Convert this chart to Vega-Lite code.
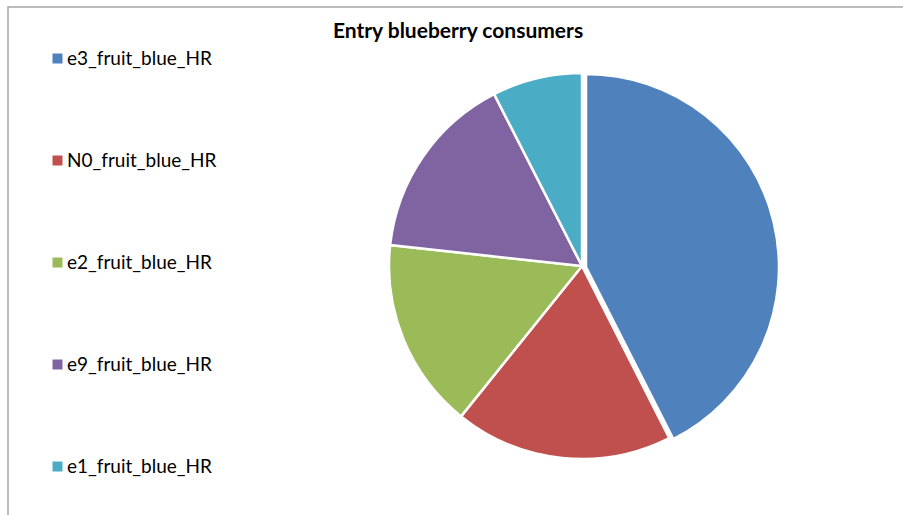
{
  "$schema": "https://vega.github.io/schema/vega-lite/v6.json",
  "width": 896,
  "height": 509,
  "padding": {"left": 7, "top": 6, "right": 0, "bottom": 0},
  "background": "white",
  "config": {
    "view": {"stroke": null},
    "font": "Lato"
  },
  "title": {
    "text": "Entry blueberry consumers",
    "anchor": "middle",
    "frame": "group",
    "offset": -36,
    "fontSize": 21,
    "fontWeight": "bold",
    "font": "Lato",
    "color": "#000000",
    "dx": 2
  },
  "data": {
    "values": [
      {"series": "e3_fruit_blue_HR", "value": 42.4, "rank": 1},
      {"series": "N0_fruit_blue_HR", "value": 18.2, "rank": 2},
      {"series": "e2_fruit_blue_HR", "value": 15.9, "rank": 3},
      {"series": "e9_fruit_blue_HR", "value": 15.7, "rank": 4},
      {"series": "e1_fruit_blue_HR", "value": 7.5, "rank": 5}
    ]
  },
  "layer": [
    {
      "data": {"values": [{"frame": 1}]},
      "mark": {"type": "rect", "fill": null, "stroke": "#a6a6a6", "strokeWidth": 1.5, "x2Offset": 30, "y2Offset": 30},
      "encoding": {}
    },
    {
      "mark": {"type": "arc", "outerRadius": 193, "x": 574, "y": 259, "stroke": "white", "strokeWidth": 2.5},
      "encoding": {
        "theta": {"field": "value", "type": "quantitative", "stack": true},
        "order": {"field": "rank", "type": "quantitative"},
        "color": {
          "field": "series",
          "type": "nominal",
          "scale": {
            "domain": ["e3_fruit_blue_HR", "N0_fruit_blue_HR", "e2_fruit_blue_HR", "e9_fruit_blue_HR", "e1_fruit_blue_HR"],
            "range": ["#4F81BD", "#C0504D", "#9BBB59", "#8064A2", "#4BACC6"]
          },
          "legend": {
            "title": null,
            "orient": "none",
            "legendX": 40,
            "legendY": 42,
            "symbolType": "square",
            "symbolSize": 100,
            "symbolStrokeWidth": 0,
            "labelFontSize": 19,
            "labelFont": "Lato",
            "labelColor": "#000000",
            "labelOffset": 0,
            "rowPadding": 82,
            "labelLimit": 300
          }
        },
        "opacity": {"condition": {"test": "datum.series === 'e3_fruit_blue_HR'", "value": 0}, "value": 1}
      }
    },
    {
      "mark": {"type": "arc", "outerRadius": 193, "x": 574, "y": 259, "xOffset": 4, "yOffset": 1, "stroke": "white", "strokeWidth": 2.5},
      "encoding": {
        "theta": {"field": "value", "type": "quantitative", "stack": true},
        "order": {"field": "rank", "type": "quantitative"},
        "color": {"field": "series", "type": "nominal"},
        "opacity": {"condition": {"test": "datum.series === 'e3_fruit_blue_HR'", "value": 1}, "value": 0}
      }
    }
  ]
}
